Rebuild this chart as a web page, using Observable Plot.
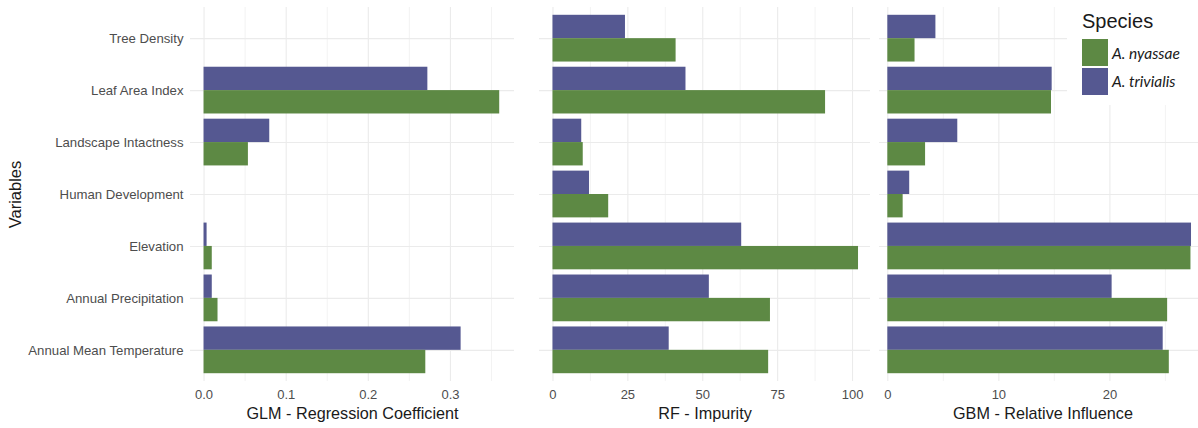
<!DOCTYPE html>
<html><head><meta charset="utf-8">
<script src="https://cdn.jsdelivr.net/npm/d3@7"></script>
<script src="https://cdn.jsdelivr.net/npm/@observablehq/plot@0.6"></script>
<style>
body{margin:0;background:#fff;}
#chart{position:relative;width:1198px;height:428px;overflow:hidden;font-family:"Liberation Sans",Arial,sans-serif;}
#chart svg{position:absolute;top:0;}
#legend{position:absolute;left:1067px;top:0;width:131px;height:105px;background:#fff;}
#legend .title{position:absolute;left:15px;top:9px;font-size:20px;line-height:24px;color:#1a1a1a;}
#legend .key{position:absolute;left:15px;width:26px;height:27px;}
#legend .lab{position:absolute;left:45px;font-family:Lato,"Open Sans",sans-serif;font-style:italic;font-size:15.5px;color:#1a1a1a;line-height:20px;}
</style></head><body><div id="chart"></div><script>
const variables = ["Tree Density","Leaf Area Index","Landscape Intactness","Human Development","Elevation","Annual Precipitation","Annual Mean Temperature"];
const species = ["A. nyassae","A. trivialis"];
const speciesColors = ["#5d8944","#555891"];

const glmNyassae   = [0, 0.360, 0.054, 0, 0.010, 0.017, 0.270];
const glmTrivialis = [0, 0.2725, 0.080, 0, 0.0037, 0.010, 0.313];
const rfNyassae    = [41.1, 91.0, 10.1, 18.6, 102.0, 72.6, 72.0];
const rfTrivialis  = [24.2, 44.4, 9.6, 12.2, 63.0, 52.2, 38.8];
const gbmNyassae   = [2.45, 14.74, 3.4, 1.38, 27.3, 25.2, 25.35];
const gbmTrivialis = [4.33, 14.8, 6.3, 1.97, 27.35, 20.2, 24.8];

const glmTicks = [0, 0.1, 0.2, 0.3];
const rfTicks = [0, 25, 50, 75, 100];
const gbmTicks = [0, 10, 20];
const glmMinor = [0.05, 0.15, 0.25, 0.35];
const rfMinor = [12.5, 37.5, 62.5, 87.5];
const gbmMinor = [5, 15, 25];

const H = 428, MT = 7, MB = 47;
const pIn = 0.1, pOut = 0.15;
const step = (H - MT - MB) / (variables.length - pIn + 2 * pOut);
const half = step * (1 - pIn) / 2;
const grid = "#ebebeb";
const chart = document.getElementById("chart");

function panel({ny, tr, domain, ticks, minor, fmt, title, left, marginLeft, width, showY}) {
  const rows = variables.flatMap((v, i) => [
    {variable: v, species: species[0], value: ny[i]},
    {variable: v, species: species[1], value: tr[i]}
  ]);
  const marks = [
    Plot.gridX(minor, {stroke: grid, strokeOpacity: 1, strokeWidth: 0.6}),
    Plot.gridX(ticks, {stroke: grid, strokeOpacity: 1, strokeWidth: 1.1}),
    Plot.gridY(variables, {stroke: grid, strokeOpacity: 1, strokeWidth: 1.1}),
    Plot.barX(rows.filter(d => d.species === species[1]), {x: "value", y: "variable", fill: "species", insetBottom: half}),
    Plot.barX(rows.filter(d => d.species === species[0]), {x: "value", y: "variable", fill: "species", insetTop: half}),
    Plot.axisX(ticks, {tickSize: 0, tickPadding: 8, tickFormat: fmt, label: null, fontSize: 13}),
    Plot.text([title], {text: d => d, frameAnchor: "bottom", dy: 32, lineAnchor: "middle", fontSize: 16.2, fill: "#1a1a1a"})
  ];
  if (showY) {
    marks.push(Plot.axisY({tickSize: 0, tickPadding: 7, label: null, fontSize: 13.2}));
    marks.push(Plot.text(["Variables"], {text: d => d, frameAnchor: "left", textAnchor: "middle", rotate: -90, dx: -175, fontSize: 16.5, fill: "#1a1a1a"}));
  }
  const svg = Plot.plot({
    width, height: H,
    marginTop: MT, marginBottom: MB, marginLeft, marginRight: 0,
    style: {fontFamily: '"Liberation Sans", Arial, sans-serif', fontSize: "12px", color: "#4d4d4d", background: "transparent", overflow: "visible"},
    x: {domain, axis: null},
    y: {domain: variables, paddingInner: pIn, paddingOuter: pOut, round: false, axis: null},
    color: {domain: species, range: speciesColors},
    marks
  });
  svg.style.left = left + "px";
  chart.appendChild(svg);
}

panel({ny: glmNyassae, tr: glmTrivialis, domain: [-0.0165, 0.378], ticks: glmTicks, minor: glmMinor,
  fmt: d3.format(".1f"), title: "GLM - Regression Coefficient", left: 0, marginLeft: 190, width: 514, showY: true});
panel({ny: rfNyassae, tr: rfTrivialis, domain: [-4.5, 106], ticks: rfTicks, minor: rfMinor,
  fmt: d3.format("d"), title: "RF - Impurity", left: 539, marginLeft: 0, width: 331, showY: false});
panel({ny: gbmNyassae, tr: gbmTrivialis, domain: [-0.75, 28.7], ticks: gbmTicks, minor: gbmMinor,
  fmt: d3.format("d"), title: "GBM - Relative Influence", left: 879, marginLeft: 0, width: 327, showY: false});

// legend
const lg = document.createElement("div");
lg.id = "legend";
const t = document.createElement("div");
t.className = "title"; t.textContent = "Species"; lg.appendChild(t);
species.forEach((s, i) => {
  const k = document.createElement("div");
  k.className = "key"; k.style.top = (39 + i * 29) + "px"; k.style.background = speciesColors[i];
  lg.appendChild(k);
  const l = document.createElement("div");
  l.className = "lab"; l.style.top = (43 + i * 28) + "px"; l.textContent = s;
  lg.appendChild(l);
});
chart.appendChild(lg);
</script></body></html>
